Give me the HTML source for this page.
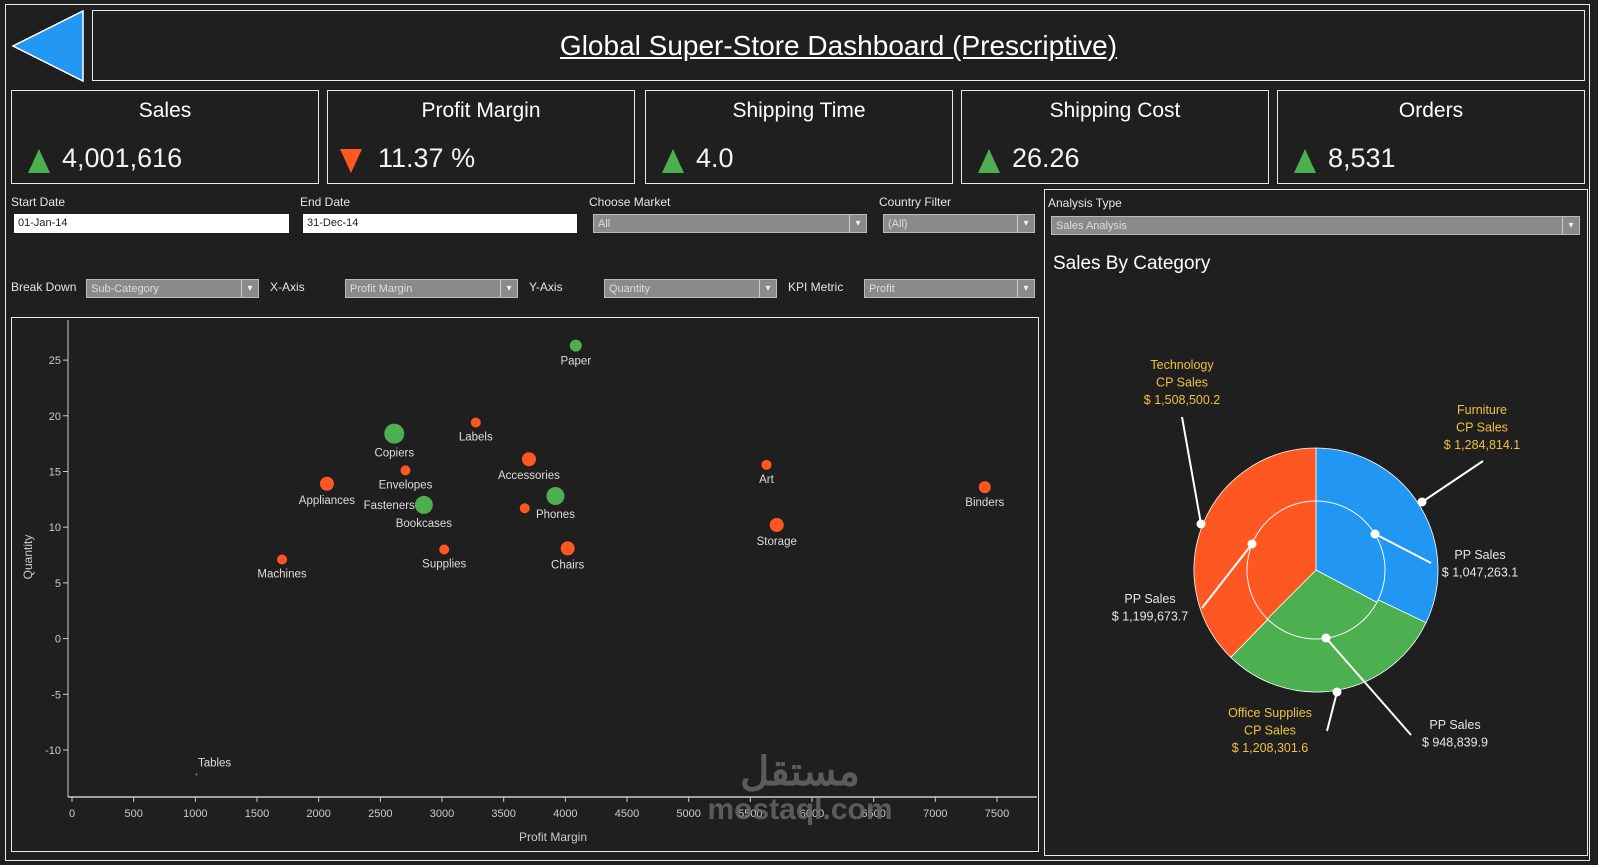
<!DOCTYPE html>
<html><head><meta charset="utf-8">
<style>
body{margin:0;width:1598px;height:865px;background:#1f1f1f;overflow:hidden;font-family:"Liberation Sans",sans-serif;color:#fff;position:relative}
.abs{position:absolute;box-sizing:border-box}
.box{border:1.5px solid #e8e8e8}
.kpi-t{position:absolute;left:0;right:0;top:8px;text-align:center;font-size:21px}
.kpi-v{position:absolute;left:50px;top:52px;font-size:27px;color:#f4f4f4}
.tri-up{position:absolute;left:16px;top:58px;width:0;height:0;border-left:11px solid transparent;border-right:11px solid transparent;border-bottom:24px solid #4caf50}
.tri-dn{position:absolute;left:12px;top:58px;width:0;height:0;border-left:11px solid transparent;border-right:11px solid transparent;border-top:24px solid #ff5722}
.lbl{position:absolute;font-size:12px;color:#e6e6e6}
.inp{position:absolute;background:#fff;color:#222;font-size:11px;padding:3px 4px;box-sizing:border-box;height:19px}
.dd{position:absolute;background:#8a8a8a;color:#ddd;font-size:11px;padding:3px 4px;box-sizing:border-box;height:19px;border:1px solid #bbb}
.dd::after{content:"▾";position:absolute;right:0;top:0;width:16px;height:17px;border-left:1px solid #ccc;text-align:center;font-size:10px;line-height:17px;color:#eee}
</style></head><body>
<div class="abs box" style="left:5px;top:4px;width:1585px;height:857px"></div>
<svg class="abs" style="left:10px;top:9px" width="76" height="74"><polygon points="73,2 73,72 3,37" fill="#2196f3" stroke="#fff" stroke-width="1.5"/></svg>
<div class="abs box" style="left:92px;top:10px;width:1493px;height:71px;text-align:center;line-height:70px;font-size:28px;text-decoration:underline"><span>Global Super-Store Dashboard (Prescriptive)</span></div>

<div class="abs box" style="left:11px;top:90px;width:308px;height:94px"><div class="kpi-t">Sales</div><div class="tri-up"></div><div class="kpi-v">4,001,616</div></div>
<div class="abs box" style="left:327px;top:90px;width:308px;height:94px"><div class="kpi-t">Profit Margin</div><div class="tri-dn"></div><div class="kpi-v">11.37 %</div></div>
<div class="abs box" style="left:645px;top:90px;width:308px;height:94px"><div class="kpi-t">Shipping Time</div><div class="tri-up"></div><div class="kpi-v">4.0</div></div>
<div class="abs box" style="left:961px;top:90px;width:308px;height:94px"><div class="kpi-t">Shipping Cost</div><div class="tri-up"></div><div class="kpi-v">26.26</div></div>
<div class="abs box" style="left:1277px;top:90px;width:308px;height:94px"><div class="kpi-t">Orders</div><div class="tri-up"></div><div class="kpi-v">8,531</div></div>

<div class="lbl" style="left:11px;top:195px">Start Date</div>
<div class="inp" style="left:14px;top:214px;width:275px">01-Jan-14</div>
<div class="lbl" style="left:300px;top:195px">End Date</div>
<div class="inp" style="left:303px;top:214px;width:274px">31-Dec-14</div>
<div class="lbl" style="left:589px;top:195px">Choose Market</div>
<div class="dd" style="left:593px;top:214px;width:274px">All</div>
<div class="lbl" style="left:879px;top:195px">Country Filter</div>
<div class="dd" style="left:883px;top:214px;width:152px">(All)</div>

<div class="lbl" style="left:11px;top:280px">Break Down</div>
<div class="dd" style="left:86px;top:279px;width:173px">Sub-Category</div>
<div class="lbl" style="left:270px;top:280px">X-Axis</div>
<div class="dd" style="left:345px;top:279px;width:173px">Profit Margin</div>
<div class="lbl" style="left:529px;top:280px">Y-Axis</div>
<div class="dd" style="left:604px;top:279px;width:173px">Quantity</div>
<div class="lbl" style="left:788px;top:280px">KPI Metric</div>
<div class="dd" style="left:864px;top:279px;width:171px">Profit</div>

<div class="abs box" style="left:11px;top:317px;width:1028px;height:535px"></div>
<svg id="sc" class="abs" style="left:0;top:0" width="1040" height="865"></svg>

<div class="abs box" style="left:1044px;top:189px;width:544px;height:667px"></div>
<div class="lbl" style="left:1048px;top:196px">Analysis Type</div>
<div class="dd" style="left:1051px;top:216px;width:529px">Sales Analysis</div>
<div class="abs" style="left:1053px;top:253px;font-size:19px">Sales By Category</div>
<svg id="pie" class="abs" style="left:1044px;top:300px" width="544" height="500"></svg>

<div class="abs" style="left:700px;top:755px;color:#6a6a6a;font-size:30px;font-weight:bold;line-height:34px;text-align:center;width:200px;opacity:.8"><span style="font-size:40px">مستقل</span><br>mostaql.com</div>

<script>
const NS="http://www.w3.org/2000/svg";
function mk(p,t,a){const e=document.createElementNS(NS,t);for(const k in a)e.setAttribute(k,a[k]);p.appendChild(e);return e;}
// scatter data
const subCats=["Paper","Copiers","Labels","Accessories","Envelopes","Appliances","Fasteners","Bookcases","Phones","Furnishings","Art","Storage","Chairs","Supplies","Machines","Binders","Tables"];
const profitMargin=[4085,2613,3274,3705,2704,2067,2820,2853,3920,3671,5631,5714,4019,3018,1703,7401,1010];
const quantity=[26.3,18.4,19.4,16.1,15.1,13.9,12.0,12.0,12.8,11.7,15.6,10.2,8.1,8.0,7.1,13.6,-12.2];
const kpiProfit=[1,1,0,0,0,0,0,1,1,0,0,0,0,0,0,0,0];
const markSize=[6,10,5,7,5,7,5,9,9,5,5,7,7,5,5,6,1];
const xTicks=[0,500,1000,1500,2000,2500,3000,3500,4000,4500,5000,5500,6000,6500,7000,7500];
const yTicks=[25,20,15,10,5,0,-5,-10];
const X=v=>72+v*(925/7500), Y=v=>638.6-v*11.14;
const sc=document.getElementById('sc');
let l=mk(sc,'line',{x1:68,y1:320,x2:68,y2:797,stroke:'#ccc'});

l=mk(sc,'line',{x1:68,y1:797,x2:1037,y2:797,stroke:'#ccc','stroke-width':1.5});

xTicks.forEach(t=>{const g=mk(sc,'g',{});

mk(g,'line',{x1:X(t),x2:X(t),y1:797,y2:802,stroke:'#ccc'});
const tx=mk(g,'text',{x:X(t),y:817,fill:'#ccc','font-size':11,'text-anchor':'middle'});tx.textContent=t;});
yTicks.forEach(t=>{const g=mk(sc,'g',{});

mk(g,'line',{x1:63,x2:68,y1:Y(t),y2:Y(t),stroke:'#ccc'});
const tx=mk(g,'text',{x:61,y:Y(t)+4,fill:'#ccc','font-size':11,'text-anchor':'end'});tx.textContent=t;});
let tt=mk(sc,'text',{x:553,y:841,fill:'#ccc','font-size':12,'text-anchor':'middle'});tt.textContent='Profit Margin';

tt=mk(sc,'text',{x:32,y:557,fill:'#ccc','font-size':12,'text-anchor':'middle',transform:'rotate(-90 32 557)'});tt.textContent='Quantity';

subCats.forEach((c,i)=>{const g=mk(sc,'g',{});

mk(g,'circle',{cx:X(profitMargin[i]),cy:Y(quantity[i]),r:markSize[i],fill:kpiProfit[i]?'#4caf50':'#ff5722'});
if(c!=="Furnishings"){let lx=X(profitMargin[i]),ly=Y(quantity[i])+markSize[i]+13,anc='middle';
if(c==="Fasteners"){lx-=5;ly=Y(quantity[i])+4;anc='end';}
if(c==="Tables"){ly=Y(quantity[i])-8;lx+=18;}
const t=mk(g,'text',{x:lx,y:ly,fill:'#ddd','font-size':11.5,'text-anchor':anc});t.textContent=c;}});
// pie data
const categories=["Furniture","Office Supplies","Technology"];
const cpSales=[1284814.1,1208301.6,1508500.2];
const ppSales=[1047263.1,948839.9,1199673.7];
const colors=["#2196f3","#4caf50","#ff5722"];
const pie=document.getElementById('pie');
const cx=272,cy=270,R=122,r=69;
function pt(a,rad){return [cx+rad*Math.sin(a),cy-rad*Math.cos(a)];}
function drawPie(vals,rad,nm){const tot=vals.reduce((a,b)=>a+b,0);let a=0;
vals.forEach((v,i)=>{const a2=a+v/tot*2*Math.PI;const p1=pt(a,rad),p2=pt(a2,rad);
const p=mk(pie,'path',{d:`M${cx},${cy}L${p1[0]},${p1[1]}A${rad},${rad} 0 ${a2-a>Math.PI?1:0} 1 ${p2[0]},${p2[1]}Z`,fill:colors[i],stroke:'#fff','stroke-width':0.8});
a=a2;});}
drawPie(cpSales,R,'cp-slice');
drawPie(ppSales,r,'pp-slice');
mk(pie,'circle',{cx:cx,cy:cy,r:r,fill:'none',stroke:'#fff','stroke-width':0.8});
function lead(x1,y1,x2,y2){mk(pie,'line',{x1:x1-1044,y1:y1-300,x2:x2-1044,y2:y2-300,stroke:'#fff','stroke-width':2});mk(pie,'circle',{cx:x1-1044,cy:y1-300,r:4.5,fill:'#fff'});}
lead(1201,524,1182,417);lead(1422,502,1483,461);lead(1375,534,1431,563);lead(1252,544,1202,608);lead(1326,638,1411,735);lead(1337,692,1327,731);
function lab(x,y,lines,col,nm){const g=mk(pie,'g',{});

lines.forEach((s,k)=>{const t=mk(g,'text',{x:x-1044,y:y-300+k*17.5,fill:col,'font-size':12.5,'text-anchor':'middle'});t.textContent=s;});}
const fmt=v=>'$ '+v.toLocaleString('en-US',{minimumFractionDigits:1,maximumFractionDigits:1});
lab(1182,369,[categories[2],'CP Sales',fmt(cpSales[2])],'#f0c040','label-technology-cp');
lab(1482,414,[categories[0],'CP Sales',fmt(cpSales[0])],'#f0c040','label-furniture-cp');
lab(1270,717,[categories[1],'CP Sales',fmt(cpSales[1])],'#f0c040','label-office-cp');
lab(1480,559,['PP Sales',fmt(ppSales[0])],'#e6e6e6','label-furniture-pp');
lab(1150,603,['PP Sales',fmt(ppSales[2])],'#e6e6e6','label-technology-pp');
lab(1455,729,['PP Sales',fmt(ppSales[1])],'#e6e6e6','label-office-pp');
</script>
</body></html>
